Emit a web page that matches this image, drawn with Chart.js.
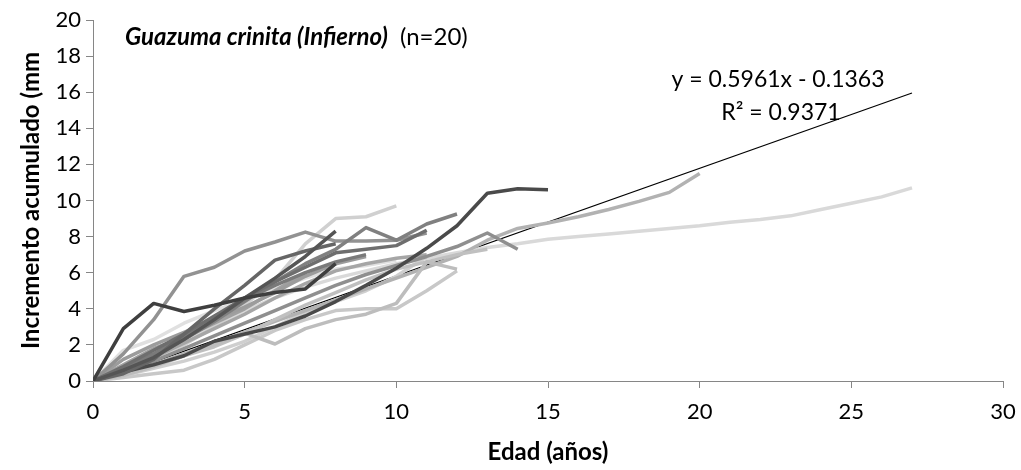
<!DOCTYPE html>
<html>
<head>
<meta charset="utf-8">
<script src="https://cdn.jsdelivr.net/npm/chart.js@4.4.1/dist/chart.umd.min.js"></script>
<style>
  html, body { margin: 0; padding: 0; background: #fff; }
  #wrap { width: 1021px; height: 470px; }
</style>
</head>
<body>
<div id="wrap"><canvas id="canvas" width="1021" height="470"></canvas></div>
<script>
// increment accumulated (mm) per year of age, one array per tree (index = age)
const tree01 = [0, 0.7, 1.5, 2.3, 3.1, 3.9, 4.6, 5.2, 5.7, 6.1, 6.5, 6.8, 7.1, 7.4, 7.6, 7.85, 8.0, 8.15, 8.3, 8.45, 8.6, 8.8, 8.95, 9.15, 9.5, 9.85, 10.2, 10.7];
const tree02 = [0, 0.4, 0.9, 1.5, 2.1, 2.7, 3.3, 3.9, 4.5, 5.1, 5.7, 6.3, 6.9, 7.8, 8.45, 8.75, 9.1, 9.5, 9.95, 10.45, 11.5];
const tree03 = [0, 0.5, 0.9, 1.4, 2.2, 2.6, 3.0, 3.6, 4.4, 5.3, 6.25, 7.35, 8.6, 10.4, 10.65, 10.6];
const tree04 = [0, 0.5, 1.1, 1.8, 2.5, 3.2, 3.9, 4.6, 5.3, 5.9, 6.4, 6.9, 7.45, 8.2, 7.3];
const tree05 = [0, 0.6, 1.4, 2.3, 3.3, 4.4, 5.5, 6.5, 7.3, 8.5, 7.8, 8.7, 9.25];
const tree06 = [0, 0.2, 0.4, 0.6, 1.2, 2.0, 2.8, 3.4, 3.9, 4.0, 4.0, 5.0, 6.1];
const tree07 = [0, 0.3, 0.8, 1.4, 2.0, 2.65, 2.05, 2.9, 3.4, 3.7, 4.3, 6.6, 6.2];
const tree08 = [0, 1.5, 3.4, 5.8, 6.3, 7.2, 7.7, 8.25, 7.75, 7.75, 7.8, 8.2];
const tree09 = [0, 0.8, 1.7, 2.6, 3.6, 4.6, 5.5, 6.3, 7.1, 7.3, 7.5, 8.35];
const tree10 = [0, 0.6, 1.3, 2.1, 2.9, 3.7, 4.6, 5.4, 6.1, 6.5, 6.8, 7.0];
const tree11 = [0, 0.6, 1.3, 2.0, 3.0, 4.2, 5.6, 7.6, 9.0, 9.1, 9.7];
const tree12 = [0, 2.9, 4.3, 3.85, 4.2, 4.6, 4.9, 5.1, 6.5];
const tree13 = [0, 0.6, 1.3, 2.3, 3.4, 4.6, 5.7, 6.9, 8.3];
const tree14 = [0, 0.4, 1.2, 2.6, 4.0, 5.3, 6.7, 7.2, 7.6];
const tree15 = [0, 1.2, 2.0, 2.7, 3.4, 4.1, 4.9, 5.8, 6.5, 6.9];
const tree16 = [0, 1.7, 2.3, 3.2, 3.9, 4.5, 5.1, 5.7, 6.2, 6.4, 6.7];
const tree17 = [0, 0.4, 0.9, 1.4, 1.9, 2.6, 3.4, 4.2, 4.9, 5.6, 6.2, 6.6, 7.0, 7.3];
const tree18 = [0, 0.9, 1.8, 2.4, 3.2, 4.0, 5.0, 6.0];
const tree19 = [0, 0.3, 0.7, 1.1, 1.6, 2.2, 3.0, 3.8, 4.4, 5.0, 5.8, 6.9];
const tree20 = [0, 0.7, 1.5, 2.5, 3.5, 4.5, 5.3, 6.0, 6.6, 7.0];

const trees = [tree12, tree13, tree14, tree03, tree09, tree20, tree05, tree08, tree04, tree15,
               tree10, tree18, tree07, tree17, tree02, tree19, tree06, tree16, tree11, tree01];
const greys = ['#3f3f3f', '#555555', '#666666', '#4a4a4a', '#6e6e6e', '#7a7a7a', '#808080', '#929292', '#8f8f8f', '#9c9c9c',
               '#a6a6a6', '#a0a0a0', '#bdbdbd', '#c0c0c0', '#b2b2b2', '#cfcfcf', '#c8c8c8', '#e0e0e0', '#d0d0d0', '#d9d9d9'];

// linear trend shown on the chart
const slope = 0.5961;
const intercept = -0.1363;
const trendAges = [0, 27];

const xTicks = [0, 5, 10, 15, 20, 25, 30];
const yTicks = [0, 2, 4, 6, 8, 10, 12, 14, 16, 18, 20];

const titleBold = 'Guazuma crinita (Infierno)';
const titleRest = ' (n=20)';
const eqText = 'y = 0.5961x - 0.1363';
const r2Text = 'R² = 0.9371';

const FONT = 'Lato, "Open Sans", sans-serif';

const datasets = trees.map((vals, i) => ({
  data: vals.map((v, age) => ({ x: age, y: v })),
  borderColor: greys[i],
  borderWidth: 3.5,
  borderJoinStyle: 'round',
  pointRadius: 0,
  showLine: true,
  tension: 0
}));
datasets.push({
  data: trendAges.map(a => ({ x: a, y: slope * a + intercept })),
  borderColor: '#000',
  borderWidth: 1.2,
  pointRadius: 0,
  showLine: true
});

const labelsPlugin = {
  id: 'labelsPlugin',
  afterDraw(chart) {
    const c = chart.ctx;
    c.save();
    c.fillStyle = '#000';
    c.textBaseline = 'middle';
    c.font = 'italic bold 24px ' + FONT;
    c.fillText(titleBold, 125, 37);
    const w = c.measureText(titleBold).width;
    c.font = '24px ' + FONT;
    c.fillText(titleRest, 131 + w, 37);
    c.textAlign = 'center';
    c.font = '23px ' + FONT;
    c.fillText(eqText, 778, 80);
    c.fillText(r2Text, 781, 113);
    c.restore();
  }
};

const ctx = document.getElementById('canvas').getContext('2d');
new Chart(ctx, {
  type: 'scatter',
  data: { datasets: datasets },
  options: {
    responsive: false,
    animation: false,
    layout: { padding: { left: 0, top: 20, right: 18, bottom: 0 } },
    plugins: { legend: { display: false }, tooltip: { enabled: false } },
    scales: {
      x: {
        type: 'linear',
        min: 0, max: 30,
        afterBuildTicks: s => { s.ticks = xTicks.map(v => ({ value: v })); },
        afterFit: s => { s.height = 89; s.paddingLeft = 0; s.paddingRight = 0; },
        ticks: { color: '#000', font: { family: FONT, size: 22 }, padding: 11 },
        grid: { drawOnChartArea: false, drawTicks: true, tickLength: 7, color: '#868686' },
        border: { color: '#868686', width: 1 },
        title: { display: true, text: 'Edad (años)', color: '#000', font: { family: FONT, size: 24, weight: 'bold' }, padding: { top: 0, bottom: 3 } }
      },
      y: {
        min: 0, max: 20,
        afterBuildTicks: s => { s.ticks = yTicks.map(v => ({ value: v })); },
        afterFit: s => { s.width = 93; s.paddingTop = 0; s.paddingBottom = 0; },
        ticks: { color: '#000', font: { family: FONT, size: 22 }, padding: 5 },
        grid: { drawOnChartArea: false, drawTicks: true, tickLength: 7, color: '#868686' },
        border: { color: '#868686', width: 1 },
        title: { display: true, text: 'Incremento acumulado (mm', color: '#000', font: { family: FONT, size: 24, weight: 'bold' }, padding: { top: 17, bottom: 0 } }
      }
    }
  },
  plugins: [labelsPlugin]
});
</script>
</body>
</html>
